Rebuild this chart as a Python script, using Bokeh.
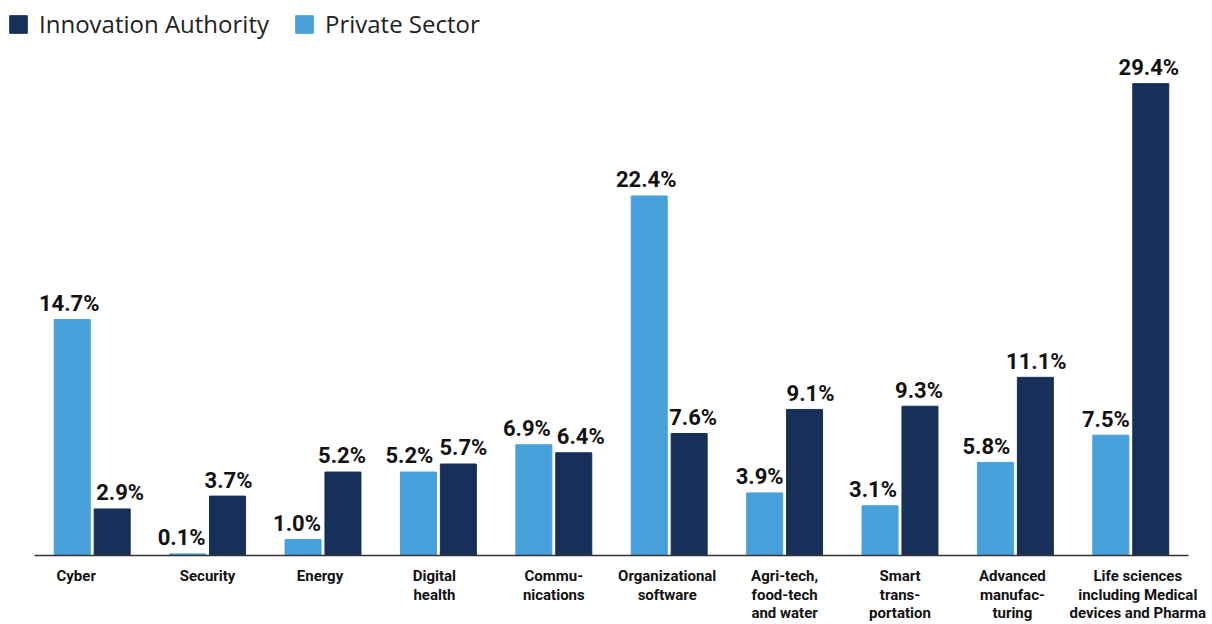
import numpy as np
from bokeh.plotting import figure
from bokeh.models import Range1d, Legend, LegendItem, ColumnDataSource
from bokeh.core.properties import value
from bokeh.embed import file_html
from bokeh.resources import INLINE

categories = ["Cyber", "Security", "Energy", "Digital\nhealth", "Commu-\nnications",
              "Organizational\nsoftware", "Agri-tech,\nfood-tech\nand water",
              "Smart\ntrans-\nportation", "Advanced\nmanufac-\nturing",
              "Life sciences\nincluding Medical\ndevices and Pharma"]
private_sector = [14.7, 0.1, 1.0, 5.2, 6.9, 22.4, 3.9, 3.1, 5.8, 7.5]
innovation_authority = [2.9, 3.7, 5.2, 5.7, 6.4, 7.6, 9.1, 9.3, 11.1, 29.4]

LIGHT = "#48A0DA"
DARK = "#17305A"
FONT = "Roboto"

W, H = 1212, 624
left, right, base = 34, 1188, 555
px_unit = (right - left) / 10
ppu = 16.05  # pixels per percent
x_range = Range1d(-0.5 - left / px_unit, 9.5 + (W - right) / px_unit)
y_range = Range1d(-(H - base) / ppu, base / ppu)

p = figure(width=W, height=H, x_range=x_range, y_range=y_range,
           output_backend="svg", toolbar_location=None, min_border=0,
           outline_line_color=None)
p.axis.visible = False
p.grid.visible = False

idx = np.arange(len(categories))
off = 0.173
bw = 0.312

# label pixel nudges (to keep adjacent labels apart)
ps_dx = [-3, -6, -6, -9, -7, -3, -5, -7, -9, -5]
ia_dx = [8, 1, -1, 5, 7, 4, 6, -1, 1, -2]
cat_dx = [-16, 0, -3, -4, 0, -2, 0, 0, -3, 7]

src = ColumnDataSource(dict(
    x=idx, cat=categories,
    ps=private_sector, ia=innovation_authority,
    xl=idx - off, xd=idx + off,
    ps_lab=[f"{v:.1f}%" for v in private_sector],
    ia_lab=[f"{v:.1f}%" for v in innovation_authority],
    ps_y=[v + 1.0 for v in private_sector],
    ia_y=[v + 1.0 for v in innovation_authority],
    ps_dx=ps_dx, ia_dx=ia_dx, cat_dx=cat_dx,
    cy=[-0.72] * len(categories),
))

light = p.vbar(x="xl", top="ps", bottom=0, width=bw, color=LIGHT, source=src)
dark = p.vbar(x="xd", top="ia", bottom=0, width=bw, color=DARK, source=src)

p.segment(x0=[-0.5], x1=[9.5], y0=[0], y1=[0], line_color="#333333", line_width=1.5)

p.text(x="xl", y="ps_y", text="ps_lab", source=src, x_offset="ps_dx",
       text_font=value(FONT), text_font_style="bold", text_font_size="22px",
       text_align="center", text_baseline="alphabetic", text_color="#111111")
p.text(x="xd", y="ia_y", text="ia_lab", source=src, x_offset="ia_dx",
       text_font=value(FONT), text_font_style="bold", text_font_size="22px",
       text_align="center", text_baseline="alphabetic", text_color="#111111")

p.text(x="x", y="cy", text="cat", source=src, x_offset="cat_dx",
       text_font=value(FONT), text_font_style="bold", text_font_size="15px",
       text_align="center", text_baseline="top", text_color="#111111",
       text_line_height=1.04)

legend = Legend(items=[LegendItem(label="Innovation Authority", renderers=[dark]),
                       LegendItem(label="Private Sector", renderers=[light])],
                orientation="horizontal", location="top_left",
                margin=7, padding=16, spacing=24,
                glyph_width=22, glyph_height=22, label_standoff=10,
                label_text_font="Open Sans", label_text_font_size="24px",
                label_text_color="#222222",
                border_line_color=None, background_fill_alpha=0)
p.add_layout(legend)

open("out.html", "w").write(file_html(p, INLINE))
